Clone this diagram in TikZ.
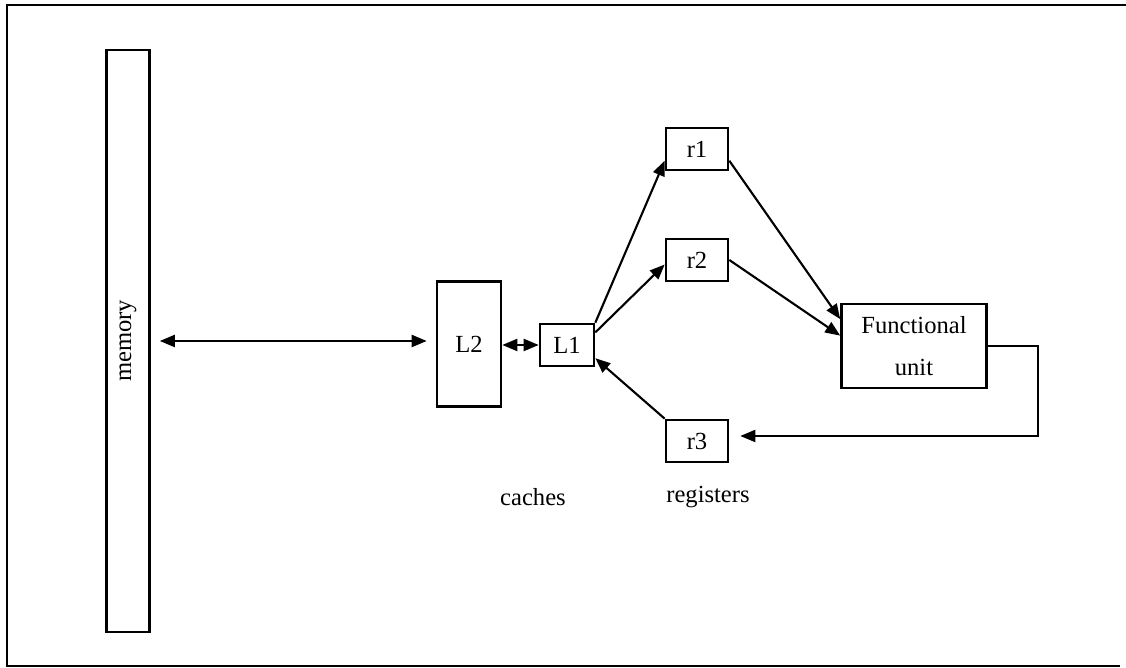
\documentclass[tikz,border=0pt]{standalone}
\usepackage{fontspec}
\setmainfont{Liberation Serif}
\usepackage{tikz}
\usetikzlibrary{arrows.meta, positioning, calc}

\tikzset{
  unit/.style={draw, line width=1.5pt, inner sep=0pt, align=center,
    font=\fontsize{14}{24}\selectfont},
  arr/.style={line width=1.2pt, -{Triangle[length=0.3cm, width=0.24cm]}},
  darr/.style={line width=1.2pt, {Triangle[length=0.3cm, width=0.24cm]}-{Triangle[length=0.3cm, width=0.24cm]}}
}

\begin{document}
\begin{tikzpicture}[x=0.02cm, y=0.02cm]
  \useasboundingbox (0,0) rectangle (1126,668);
  \draw[line width=1pt] (1126,663) -- (7,663) -- (7,2) -- (1120,2);

  % storage levels
  \node[unit, minimum width=0.86cm, minimum height=11.64cm] (mem) at (128,327) {};
  \node[rotate=90, font=\fontsize{14}{16}\selectfont] at (mem.center) {memory};
  \node[unit, minimum width=1.28cm, minimum height=2.5cm] (L2) at (469,324) {L2};
  \node[unit, minimum width=1.08cm, minimum height=0.84cm] (L1) at (567,323) {L1};
  \node[unit, minimum width=1.24cm, minimum height=0.84cm] (r1) at (697,519) {r1};
  \node[unit, minimum width=1.24cm, minimum height=0.84cm] (r2) at (697,408) {r2};
  \node[unit, minimum width=1.24cm, minimum height=0.84cm] (r3) at (697,227) {r3};
  \node[unit, minimum width=2.9cm, minimum height=1.68cm] (fu) at (914,322) {Functional\\unit};

  \node[font=\fontsize{14}{16}\selectfont] (caches) at (533,171) {caches};
  \node[font=\fontsize{14}{16}\selectfont] (regs) at (708,171) {registers};

  % connections
  \draw[darr, shorten <=0.18cm, shorten >=0.18cm] (mem.east) -- (mem.east -| L2.west);
  \draw[darr] (L2.east |- L1.west) -- (L1.west);
  \draw[arr] (L1.north east) -- (r1.200);
  \draw[arr] (L1.24) -- (r2.188);
  \draw[arr] (r3.north west) -- (L1.-25);
  \draw[arr] (r1.-20) -- (fu.160);
  \draw[arr] (r2.east) -- (fu.172);
  \coordinate (fbk) at (1038,232);
  \draw[arr, shorten >=0.22cm] (fu.east) -| (fbk) -- (fbk -| r3.east);
\end{tikzpicture}
\end{document}
